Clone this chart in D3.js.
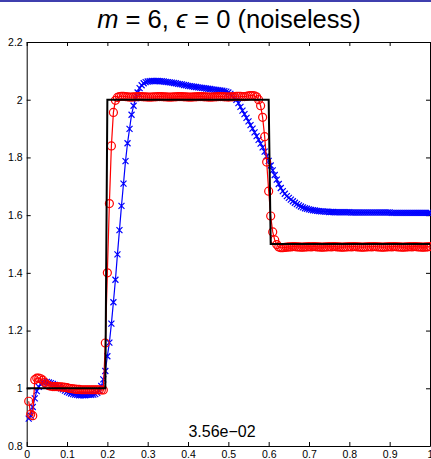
<!DOCTYPE html>
<html>
<head>
<meta charset="utf-8">
<script src="https://cdn.jsdelivr.net/npm/d3@7"></script>
<style>
body { margin: 0; background: #fff; }
svg { display: block; font-family: "Liberation Sans", Arial, sans-serif; }
</style>
</head>
<body>
<svg id="graph" width="431" height="459"></svg>
<script>
// grille d'échantillonnage : 200 points, pas de 0.005
const pas = 0.005;
const xGrille = d3.range(1, 201).map(i => +(i * pas).toFixed(3));

// fonction exacte (marches)
const marcheX = [0, 0.195, 0.2, 0.6, 0.605, 1];
const marcheY = [1, 1, 2, 2, 1.5, 1.5];

// approximation rouge (cercles)
const rouge = [
  0.955, 0.91, 0.905, 1.03, 1.035, 1.035, 1.033, 1.028, 1.02, 1.013,
  1.009, 1.007, 1.006, 1.006, 1.006, 1.005, 1.005, 1.004, 1.003, 1.002,
  1.0, 0.999, 0.998, 0.997, 0.996, 0.996, 0.995, 0.995, 0.995, 0.995,
  0.995, 0.995, 0.995, 0.995, 0.995, 0.995, 0.994, 0.994, 1.157, 1.40,
  1.64, 1.84, 1.956, 1.998, 2.008, 2.011, 2.012, 2.012, 2.011, 2.01,
  2.009, 2.009, 2.01, 2.01, 2.011, 2.011, 2.011, 2.01, 2.01, 2.009,
  2.009, 2.009, 2.01, 2.01, 2.011, 2.011, 2.011, 2.01, 2.01, 2.009,
  2.009, 2.009, 2.01, 2.01, 2.011, 2.011, 2.011, 2.01, 2.01, 2.009,
  2.009, 2.009, 2.01, 2.01, 2.011, 2.011, 2.011, 2.01, 2.01, 2.009,
  2.009, 2.009, 2.01, 2.01, 2.011, 2.011, 2.011, 2.01, 2.01, 2.009,
  2.01, 2.01, 2.011, 2.012, 2.012, 2.012, 2.011, 2.011, 2.012, 2.013,
  2.014, 2.014, 2.013, 2.01, 2.0, 1.979, 1.939, 1.872, 1.784, 1.683,
  1.597, 1.542, 1.514, 1.498, 1.49, 1.487, 1.487, 1.488, 1.489, 1.49,
  1.49, 1.491, 1.491, 1.49, 1.49, 1.489, 1.489, 1.49, 1.49, 1.491,
  1.49, 1.491, 1.491, 1.49, 1.49, 1.489, 1.489, 1.49, 1.49, 1.491,
  1.49, 1.491, 1.491, 1.49, 1.49, 1.489, 1.489, 1.49, 1.49, 1.491,
  1.49, 1.491, 1.491, 1.49, 1.49, 1.489, 1.489, 1.49, 1.49, 1.491,
  1.49, 1.491, 1.491, 1.49, 1.49, 1.489, 1.489, 1.49, 1.49, 1.491,
  1.49, 1.491, 1.491, 1.49, 1.49, 1.489, 1.489, 1.49, 1.49, 1.491,
  1.49, 1.491, 1.491, 1.49, 1.49, 1.489, 1.489, 1.49, 1.49, 1.491
];

// approximation bleue (croix)
const bleu = [
  0.895, 0.905, 0.935, 0.965, 0.99, 1.005, 1.015, 1.02, 1.022, 1.022,
  1.02, 1.018, 1.015, 1.012, 1.008, 1.004, 1.0, 0.996, 0.992, 0.988,
  0.985, 0.982, 0.98, 0.978, 0.977, 0.976, 0.976, 0.976, 0.976, 0.977,
  0.977, 0.977, 0.978, 0.98, 0.984, 0.992, 1.008, 1.031, 1.06, 1.111,
  1.158, 1.224, 1.298, 1.376, 1.464, 1.548, 1.632, 1.709, 1.787, 1.849,
  1.899, 1.948, 1.979, 2.005, 2.025, 2.04, 2.05, 2.057, 2.061, 2.063,
  2.064, 2.065, 2.065, 2.065, 2.065, 2.064, 2.064, 2.063, 2.062, 2.061,
  2.06, 2.059, 2.058, 2.057, 2.055, 2.054, 2.053, 2.051, 2.05, 2.048,
  2.047, 2.046, 2.045, 2.044, 2.043, 2.042, 2.041, 2.04, 2.039, 2.038,
  2.037, 2.036, 2.035, 2.034, 2.033, 2.032, 2.031, 2.03, 2.028, 2.025,
  2.02, 2.014, 2.007, 2.0, 1.988, 1.975, 1.962, 1.95, 1.937, 1.925,
  1.912, 1.9, 1.887, 1.874, 1.861, 1.848, 1.835, 1.82, 1.804, 1.788,
  1.772, 1.755, 1.739, 1.723, 1.708, 1.694, 1.683, 1.674, 1.666, 1.66,
  1.654, 1.648, 1.643, 1.638, 1.634, 1.63, 1.627, 1.624, 1.622, 1.62,
  1.618, 1.617, 1.616, 1.615, 1.614, 1.613, 1.613, 1.612, 1.612, 1.611,
  1.611, 1.611, 1.61, 1.61, 1.61, 1.61, 1.61, 1.61, 1.61, 1.61,
  1.609, 1.609, 1.609, 1.609, 1.609, 1.609, 1.609, 1.609, 1.609, 1.609,
  1.609, 1.609, 1.609, 1.609, 1.609, 1.609, 1.609, 1.609, 1.609, 1.609,
  1.608, 1.608, 1.608, 1.608, 1.608, 1.608, 1.608, 1.608, 1.608, 1.608,
  1.608, 1.608, 1.608, 1.608, 1.608, 1.608, 1.608, 1.608, 1.608, 1.608
];

const xTicks = [0, 0.1, 0.2, 0.3, 0.4, 0.5, 0.6, 0.7, 0.8, 0.9, 1];
const xTickLabels = ["0", "0.1", "0.2", "0.3", "0.4", "0.5", "0.6", "0.7", "0.8", "0.9", "1"];
const yTicks = [0.8, 1, 1.2, 1.4, 1.6, 1.8, 2, 2.2];
const yTickLabels = ["0.8", "1", "1.2", "1.4", "1.6", "1.8", "2", "2.2"];
const erreur = "3.56e\u221202";

const svg = d3.select("#graph");

const x = d3.scaleLinear().domain([0, 1]).range([26.7, 430]);
const y = d3.scaleLinear().domain([0.8, 2.2]).range([446, 42]);

// bandeau bleu en haut
svg.append("rect")
    .attr("x", 0).attr("y", 0)
    .attr("width", 431).attr("height", 2)
    .attr("fill", "#3f3fae");

// titre
const titre = svg.append("text")
    .attr("x", 229).attr("y", 28)
    .attr("text-anchor", "middle")
    .attr("font-size", 25.5)
    .attr("fill", "#000");
titre.append("tspan").attr("font-style", "italic").text("m");
titre.append("tspan").text(" = 6, ");
titre.append("tspan").attr("font-style", "italic").text("\u03F5");
titre.append("tspan").text(" = 0 (noiseless)");

// axes (ticks vers l'intérieur, style matlab)
const axeBas = d3.axisBottom(x).tickValues(xTicks)
    .tickFormat((d, i) => xTickLabels[i])
    .tickSizeInner(-4).tickSizeOuter(0).tickPadding(5);
const axeGauche = d3.axisLeft(y).tickValues(yTicks)
    .tickFormat((d, i) => yTickLabels[i])
    .tickSizeInner(-4).tickSizeOuter(0).tickPadding(4);
const axeHaut = d3.axisTop(x).tickValues(xTicks).tickFormat("")
    .tickSizeInner(-4).tickSizeOuter(0);
const axeDroite = d3.axisRight(y).tickValues(yTicks).tickFormat("")
    .tickSizeInner(-4).tickSizeOuter(0);

svg.append("g").attr("transform", `translate(0,${y(0.8)})`).call(axeBas);
svg.append("g").attr("transform", `translate(${x(0)},0)`).call(axeGauche);
svg.append("g").attr("transform", `translate(0,${y(2.2)})`).call(axeHaut);
svg.append("g").attr("transform", `translate(${x(1)},0)`).call(axeDroite);

svg.selectAll(".tick text")
    .attr("font-family", "Liberation Sans, Arial, sans-serif")
    .attr("font-size", 10.5)
    .attr("fill", "#000");
svg.selectAll(".domain, .tick line").attr("stroke", "#000");

const ligne = d3.line().x(d => x(d[0])).y(d => y(d[1]));

const ptsBleu = xGrille.map((v, i) => [v, bleu[i]]);
const ptsRouge = xGrille.map((v, i) => [v, rouge[i]]);
const ptsMarche = marcheX.map((v, i) => [v, marcheY[i]]);

// série bleue : ligne + croix
svg.append("path").datum(ptsBleu)
    .attr("d", ligne)
    .attr("fill", "none").attr("stroke", "#0000ff").attr("stroke-width", 1.2);

svg.append("g").selectAll("path")
    .data(ptsBleu)
    .join("path")
    .attr("transform", d => `translate(${x(d[0])},${y(d[1])})`)
    .attr("d", "M-3,-3L3,3M-3,3L3,-3")
    .attr("stroke", "#0000ff").attr("stroke-width", 1.2).attr("fill", "none");

// série rouge : ligne + cercles
svg.append("path").datum(ptsRouge)
    .attr("d", ligne)
    .attr("fill", "none").attr("stroke", "#ff0000").attr("stroke-width", 1.2);

svg.append("g").selectAll("circle")
    .data(ptsRouge)
    .join("circle")
    .attr("cx", d => x(d[0]))
    .attr("cy", d => y(d[1]))
    .attr("r", 4)
    .attr("fill", "none").attr("stroke", "#ff0000").attr("stroke-width", 1.2);

// fonction exacte en noir, par dessus
svg.append("path").datum(ptsMarche)
    .attr("d", ligne)
    .attr("fill", "none").attr("stroke", "#000").attr("stroke-width", 2);

// erreur
svg.append("text")
    .attr("x", 222).attr("y", 437)
    .attr("text-anchor", "middle")
    .attr("font-size", 16)
    .attr("fill", "#000")
    .text(erreur);
</script>
</body>
</html>
